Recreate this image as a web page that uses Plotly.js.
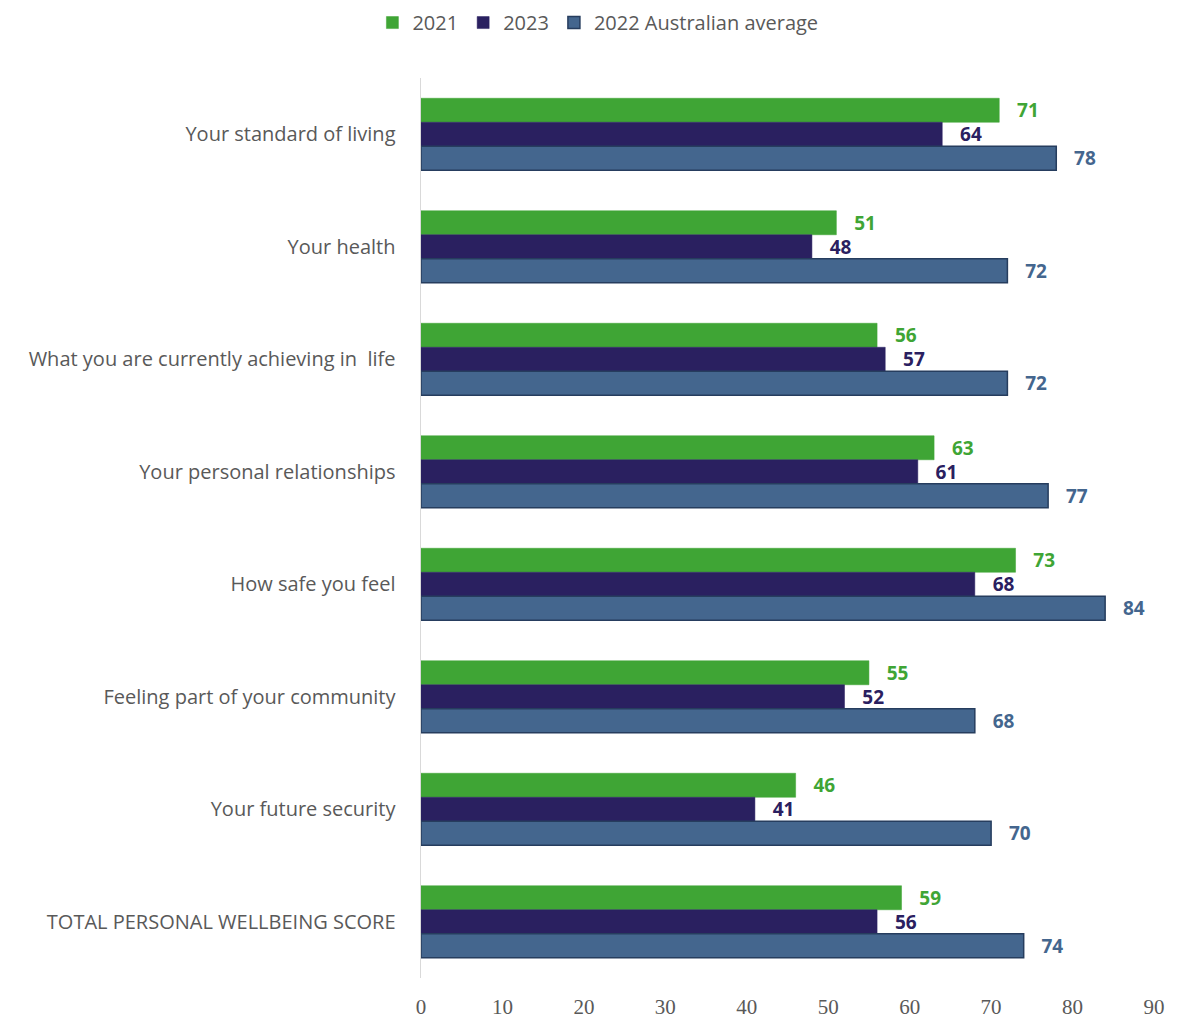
<!DOCTYPE html>
<html>
<head>
<meta charset="utf-8">
<script src="https://cdn.plot.ly/plotly-3.0.1.min.js"></script>
<style>html,body{margin:0;padding:0;background:#fff;}#chart{width:1177px;height:1021px;}</style>
</head>
<body>
<div id="chart"></div>
<script>
const categories = [
  "Your standard of living",
  "Your health",
  "What you are currently achieving in  life",
  "Your personal relationships",
  "How safe you feel",
  "Feeling part of your community",
  "Your future security",
  "TOTAL PERSONAL WELLBEING SCORE"
];
const values2021 = [71, 51, 56, 63, 73, 55, 46, 59];
const values2023 = [64, 48, 57, 61, 68, 52, 41, 56];
const valuesAvg2022 = [78, 72, 72, 77, 84, 68, 70, 74];
const seriesNames = ["2021", "2023", "2022 Australian average"];
const xTicks = [0, 10, 20, 30, 40, 50, 60, 70, 80, 90];

const colors = ["#3fa535", "#2a2060", "#44668e"];
const lineColors = ["#3fa535", "#2a2060", "#263d5e"];
const series = [values2021, values2023, valuesAvg2022];

const traces = series.map((vals, i) => ({
  type: "bar",
  orientation: "h",
  name: seriesNames[i],
  y: categories,
  x: vals,
  marker: {color: colors[i], line: {color: lineColors[i], width: i === 2 ? 1.5 : 0.5}},
  texttemplate: "\u00a0\u00a0\u00a0%{x}",
  textposition: "outside",
  constraintext: "none",
  cliponaxis: false,
  textfont: {family: "Open Sans", size: 19, color: colors[i], weight: "bold"},
  hoverinfo: "x+y"
}));

const layout = {
  width: 1177,
  height: 1021,
  margin: {l: 421, r: 23, t: 78, b: 43},
  paper_bgcolor: "#ffffff",
  plot_bgcolor: "#ffffff",
  barmode: "group",
  bargap: 0.36,
  bargroupgap: 0,
  showlegend: true,
  legend: {
    orientation: "h",
    xref: "container", yref: "container",
    x: 0.508, xanchor: "center",
    y: 0.997, yanchor: "top",
    font: {family: "Open Sans", size: 20, color: "#595959"},
    traceorder: "normal",
    itemwidth: 30
  },
  xaxis: {
    range: [0, 90],
    tickvals: xTicks,
    ticktext: xTicks.map(String),
    showgrid: false,
    zeroline: false,
    showline: false,
    ticks: "",
    ticklabelstandoff: 14,
    tickfont: {family: "Liberation Serif", size: 21, color: "#595959"},
    fixedrange: true
  },
  yaxis: {
    autorange: "reversed",
    type: "category",
    showgrid: false,
    zeroline: false,
    showline: true,
    linecolor: "#d9d9d9",
    linewidth: 1.5,
    ticks: "",
    ticklabelstandoff: 20,
    tickfont: {family: "Open Sans", size: 20, color: "#595959"},
    fixedrange: true
  }
};

Plotly.newPlot("chart", traces, layout, {displayModeBar: false, staticPlot: true});
</script>
</body>
</html>
